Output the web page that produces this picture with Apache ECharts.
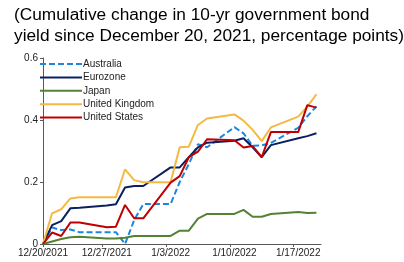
<!DOCTYPE html>
<html><head><meta charset="utf-8">
<script src="https://cdn.jsdelivr.net/npm/echarts@6/dist/echarts.min.js"></script>
<style>html,body{margin:0;padding:0;background:#fff}#c{width:404px;height:262px}</style>
</head><body><div id="c"></div>
<script>
const dates = ['2021-12-20','2021-12-21','2021-12-22','2021-12-23','2021-12-24',
  '2021-12-27','2021-12-28','2021-12-29','2021-12-30','2021-12-31',
  '2022-01-03','2022-01-04','2022-01-05','2022-01-06','2022-01-07',
  '2022-01-10','2022-01-11','2022-01-12','2022-01-13','2022-01-14',
  '2022-01-17','2022-01-18','2022-01-19'];
const australia = [0,0.053,0.045,0.047,0.038, 0.038,0.038,0.0,0.077,0.129, 0.129,0.2,0.258,0.322,0.312, 0.377,0.357,0.317,0.318,0.326, 0.375,0.412,0.444];
const eurozone  = [0,0.061,0.074,0.115,0.117, 0.124,0.128,0.182,0.187,0.187, 0.247,0.247,0.28,0.312,0.327, 0.333,0.341,0.312,0.28,0.319, 0.341,0.348,0.357];
const japan     = [0,0.008,0.016,0.022,0.023, 0.018,0.018,0.02,0.026,0.026, 0.026,0.043,0.043,0.082,0.097, 0.097,0.11,0.088,0.088,0.097, 0.103,0.1,0.101];
const uk        = [0,0.099,0.112,0.147,0.151, 0.151,0.151,0.241,0.206,0.199, 0.199,0.312,0.314,0.384,0.405, 0.418,0.398,0.368,0.332,0.376, 0.411,0.443,0.483];
const us        = [0,0.037,0.026,0.069,0.069, 0.054,0.056,0.126,0.083,0.083, 0.198,0.219,0.28,0.298,0.338, 0.335,0.311,0.316,0.28,0.361, 0.361,0.448,0.44];
const tickLabels = ['12/20/2021','12/27/2021','1/3/2022','1/10/2022','1/17/2022'];

const DAY = 86400000;
const t0 = Date.parse(dates[0] + 'T00:00:00Z');
const dayOf = s => Math.round((Date.parse(s + 'T00:00:00Z') - t0) / DAY);
const xs = dates.map(dayOf);
const pairs = arr => arr.map((v, i) => [xs[i], v]);
const labelDays = [0, 7, 14, 21, 28];
const tickDays = [0, 6.5, 13.5, 20.5, 27.5];

const FONT = 'Liberation Sans, Arial, sans-serif';
const mk = (name, data, color, dashed) => ({
  name, type: 'line', data: pairs(data), symbol: 'none', showSymbol: false,
  lineStyle: { color, width: 2, type: dashed ? [6, 3] : 'solid' },
  itemStyle: { color }, animation: false
});

const chart = echarts.init(document.getElementById('c'), null, { renderer: 'canvas' });
chart.setOption({
  animation: false,
  title: {
    text: '(Cumulative change in 10-yr government bond\nyield since December 20, 2021, percentage points)',
    left: 9, top: 0,
    textStyle: { fontFamily: FONT, fontSize: 17.3, fontWeight: 'normal', color: '#000', lineHeight: 21 }
  },
  grid: { left: 43, right: 83, top: 58, bottom: 18, containLabel: false },
  legend: {
    orient: 'vertical', left: 34, top: 54, itemWidth: 42, itemHeight: 10, itemGap: 3.4,
    itemStyle: { opacity: 0 },
    textStyle: { fontFamily: FONT, fontSize: 10, color: '#222', padding: [0,0,0,-4] },
    data: ['Australia','Eurozone','Japan','United Kingdom','United States']
  },
  xAxis: {
    type: 'value', min: 0, max: 30.5,
    axisLine: { show: true, lineStyle: { color: '#595959', width: 1 } },
    axisTick: { show: true, length: 3, customValues: tickDays, lineStyle: { color: '#595959' } },
    axisLabel: {
      customValues: labelDays, fontFamily: FONT, fontSize: 10, color: '#222', margin: 4,
      formatter: v => tickLabels[labelDays.indexOf(Math.round(v))] || ''
    },
    splitLine: { show: false }
  },
  yAxis: {
    type: 'value', min: 0, max: 0.6, interval: 0.2,
    axisLine: { show: true, lineStyle: { color: '#595959', width: 1 } },
    axisTick: { show: true, length: 3, lineStyle: { color: '#595959' } },
    axisLabel: { fontFamily: FONT, fontSize: 10, color: '#222', margin: 5 },
    splitLine: { show: false }
  },
  series: [
    mk('Australia', australia, '#1a86e0', true),
    mk('Eurozone', eurozone, '#0c2060', false),
    mk('Japan', japan, '#548235', false),
    mk('United Kingdom', uk, '#f4b942', false),
    mk('United States', us, '#c00000', false)
  ]
});
</script></body></html>
